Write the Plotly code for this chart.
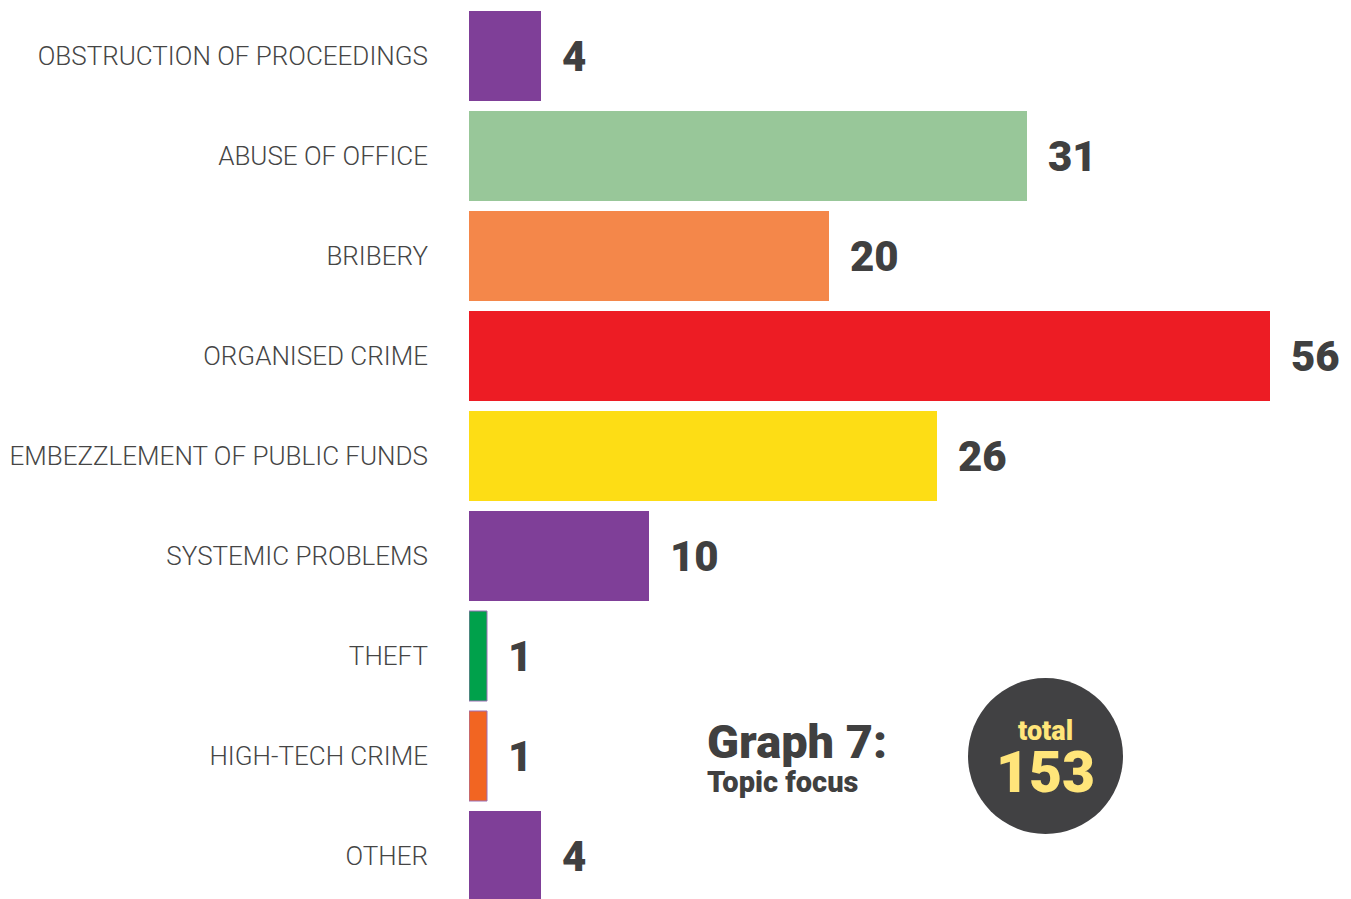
import plotly.graph_objects as go

categories = ["OBSTRUCTION OF PROCEEDINGS", "ABUSE OF OFFICE", "BRIBERY", "ORGANISED CRIME",
              "EMBEZZLEMENT OF PUBLIC FUNDS", "SYSTEMIC PROBLEMS", "THEFT", "HIGH-TECH CRIME", "OTHER"]
values = [4, 31, 20, 56, 26, 10, 1, 1, 4]
colors = ["#7F3F98", "#98C799", "#F4874A", "#ED1C24", "#FDDD15", "#7F3F98", "#00A14B", "#F26522", "#7F3F98"]
total_value = 153
title_main = "Graph 7:"
title_sub = "Topic focus"
total_label = "total"

# page has an 8px body margin: figure coords = reference coords - 8
OFF = 8
W, H = 1351 - OFF, 899 - OFF
L = 469 - OFF
R = W - (1270 - OFF)
XMAX = 44.5
pos = list(range(len(categories)))

outline_w = [1 if v <= 1 else 0 for v in values]

fig = go.Figure()
fig.add_trace(go.Bar(
    x=values, y=pos, orientation="h", width=0.9,
    marker=dict(color=colors, line=dict(color="#9B6FB5", width=outline_w)),
    hoverinfo="skip",
))

annotations = []
for i, v in enumerate(values):
    annotations.append(dict(
        x=min(v, XMAX), y=i, xref="x", yref="y", text=str(v), showarrow=False,
        xanchor="left", yanchor="middle", xshift=19,
        font=dict(family="Roboto", size=42, color="#404040", weight=900),
    ))

def px_x(p):
    return (p - OFF - L) / (W - L - R)

def px_y(p):
    return 1 - (p - OFF) / H

annotations += [
    dict(x=px_x(705), y=px_y(756), xref="paper", yref="paper",
         text=f"<span style='font-size:47px'>{title_main}</span><br>"
              f"<span style='font-size:29px'>{title_sub}</span>",
         showarrow=False, xanchor="left", yanchor="middle", align="left",
         font=dict(family="Roboto", size=26, color="#404040", weight=900)),
    dict(x=px_x(1045), y=px_y(760), xref="paper", yref="paper",
         text=f"<span style='font-size:27px'>{total_label}</span><br>"
              f"<span style='font-size:57px'>{total_value}</span>",
         showarrow=False, xanchor="center", yanchor="middle", align="center",
         font=dict(family="Roboto", size=40, color="#FFE57A", weight=900)),
]

fig.update_layout(
    width=W, height=H,
    margin=dict(l=L, r=R, t=0, b=0, pad=0),
    paper_bgcolor="white", plot_bgcolor="white",
    showlegend=False,
    xaxis=dict(range=[0, XMAX], visible=False, fixedrange=True),
    yaxis=dict(range=[8.43, -0.48], tickvals=pos, ticktext=categories, showgrid=False,
               zeroline=False, showline=False, ticks="", ticklabelstandoff=40,
               tickfont=dict(family="Roboto", size=26, color="#454545", weight=300)),
    annotations=annotations,
    shapes=[dict(type="circle", xref="paper", yref="paper",
                 x0=px_x(968), x1=px_x(1123), y0=px_y(834), y1=px_y(678),
                 fillcolor="#414143", line=dict(width=0), layer="below")],
)

fig.write_html("out.html")
